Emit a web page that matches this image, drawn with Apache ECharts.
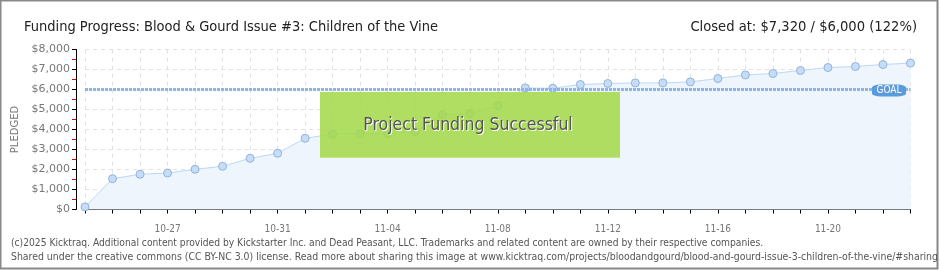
<!DOCTYPE html>
<html><head><meta charset="utf-8">
<script src="https://cdn.jsdelivr.net/npm/echarts@6/dist/echarts.min.js"></script>
<style>html,body{margin:0;padding:0;background:#fff}#c{width:940px;height:270px}</style>
</head><body><div id="c"></div>
<script>
const categories = ['10-24','10-25','10-26','10-27','10-28','10-29','10-30','10-31','11-01','11-02','11-03','11-04','11-05','11-06','11-07','11-08','11-09','11-10','11-11','11-12','11-13','11-14','11-15','11-16','11-17','11-18','11-19','11-20','11-21','11-22','11-23'];
const pledged = [130,1540,1760,1825,2010,2160,2560,2810,3560,3770,3780,3790,3900,4740,4800,5190,6080,6060,6250,6300,6330,6330,6380,6550,6730,6800,6950,7100,7150,7250,7320];
const goal = 6000;
const titleText = 'Funding Progress: Blood & Gourd Issue #3: Children of the Vine';
const closedText = 'Closed at: $7,320 / $6,000 (122%)';
const footer1 = '(c)2025 Kicktraq. Additional content provided by Kickstarter Inc. and Dead Peasant, LLC. Trademarks and related content are owned by their respective companies.';
const footer2 = 'Shared under the creative commons (CC BY-NC 3.0) license. Read more about sharing this image at www.kicktraq.com/projects/bloodandgourd/blood-and-gourd-issue-3-children-of-the-vine/#sharing';

const chart = echarts.init(document.getElementById('c'), null, {renderer:'canvas'});
const cond = '"DejaVu Sans Condensed", "DejaVu Sans", sans-serif';
chart.setOption({
  animation:false,
  backgroundColor:'#fff',
  grid:{left:85, right:29.5, top:49.5, bottom:60.5, containLabel:false},
  xAxis:{
    type:'category', data:categories, boundaryGap:false, offset:11,
    axisLine:{show:true, lineStyle:{color:'#000', width:1}},
    axisTick:{show:true, interval:0, length:4, lineStyle:{color:'#000'}},
    axisLabel:{interval:(i)=>i%4===3, color:'#777', fontSize:10, fontFamily:cond, margin:4},
    splitLine:{show:true, interval:0, lineStyle:{color:'#e2e2e2', type:[4,4]}}
  },
  yAxis:{
    type:'value', min:0, max:8000, interval:1000, offset:9,
    name:'PLEDGED', nameLocation:'middle', nameGap:44, nameRotate:90,
    nameTextStyle:{color:'#777', fontSize:10, fontFamily:'"DejaVu Sans", sans-serif'},
    axisLine:{show:true, lineStyle:{color:'#000'}},
    axisTick:{show:true, length:4, lineStyle:{color:'#000'}},
    minorTick:{show:true, splitNumber:2, length:4, lineStyle:{color:'#d00'}},
    axisLabel:{color:'#777', fontSize:11, fontFamily:'"DejaVu Sans", sans-serif', margin:6,
      formatter:(v)=>'$'+v.toLocaleString('en-US')},
    splitLine:{show:true, lineStyle:{color:'#e2e2e2', type:[4,4]}}
  },
  title:[
    {text:titleText, left:19, top:15, textStyle:{fontFamily:cond, fontSize:14.5, fontWeight:'normal', color:'#222'}},
    {text:closedText, right:18, top:15, textStyle:{fontFamily:cond, fontSize:14.6, fontWeight:'normal', color:'#222'}}
  ],
  graphic:[
    {type:'rect', z:100, shape:{x:0.5,y:0.5,width:937,height:268}, style:{fill:'none', stroke:'#888', lineWidth:2}},
    {type:'text', z:100, left:11, top:238, style:{text:footer1, fill:'#555', font:'10.2px "DejaVu Sans Condensed", sans-serif'}},
    {type:'text', z:100, left:11, top:252, style:{text:footer2, fill:'#555', font:'10.4px "DejaVu Sans Condensed", sans-serif'}},
    {type:'rect', z:50, shape:{x:320,y:92,width:300,height:66}, style:{fill:'rgba(163,217,72,0.86)'}},
    {type:'rect', z:51, shape:{x:320,y:157,width:300,height:1}, style:{fill:'#c4e88a'}},
    {type:'text', z:52, x:469, y:126, style:{text:'Project Funding Successful', fill:'#fff', align:'center', verticalAlign:'middle', font:'17.5px "DejaVu Sans Condensed", sans-serif'}},
    {type:'text', z:53, x:468, y:125, style:{text:'Project Funding Successful', fill:'#555', align:'center', verticalAlign:'middle', font:'17.5px "DejaVu Sans Condensed", sans-serif'}}
  ],
  series:[{
    type:'line', data:pledged, symbol:'circle', symbolSize:8, z:3,
    lineStyle:{color:'#bcd8f4', width:1},
    itemStyle:{color:'#c5ddf8', borderColor:'#93b3d8', borderWidth:1},
    areaStyle:{color:'#eef5fd', opacity:1},
    markLine:{
      silent:true, symbol:'none',
      lineStyle:{color:'#8cb6e6', width:3, type:[3,1]},
      label:{show:false},
      data:[{yAxis:goal}]
    },
    markPoint:{
      silent:true,
      symbol:'roundRect', symbolSize:[34,12], symbolOffset:[6,1],
      itemStyle:{color:'#5b9bdc'},
      label:{show:true, formatter:'GOAL', color:'#fff', fontSize:10, fontFamily:cond, position:'inside'},
      data:[{coord:[29, goal]}]
    }
  }]
});
</script></body></html>
